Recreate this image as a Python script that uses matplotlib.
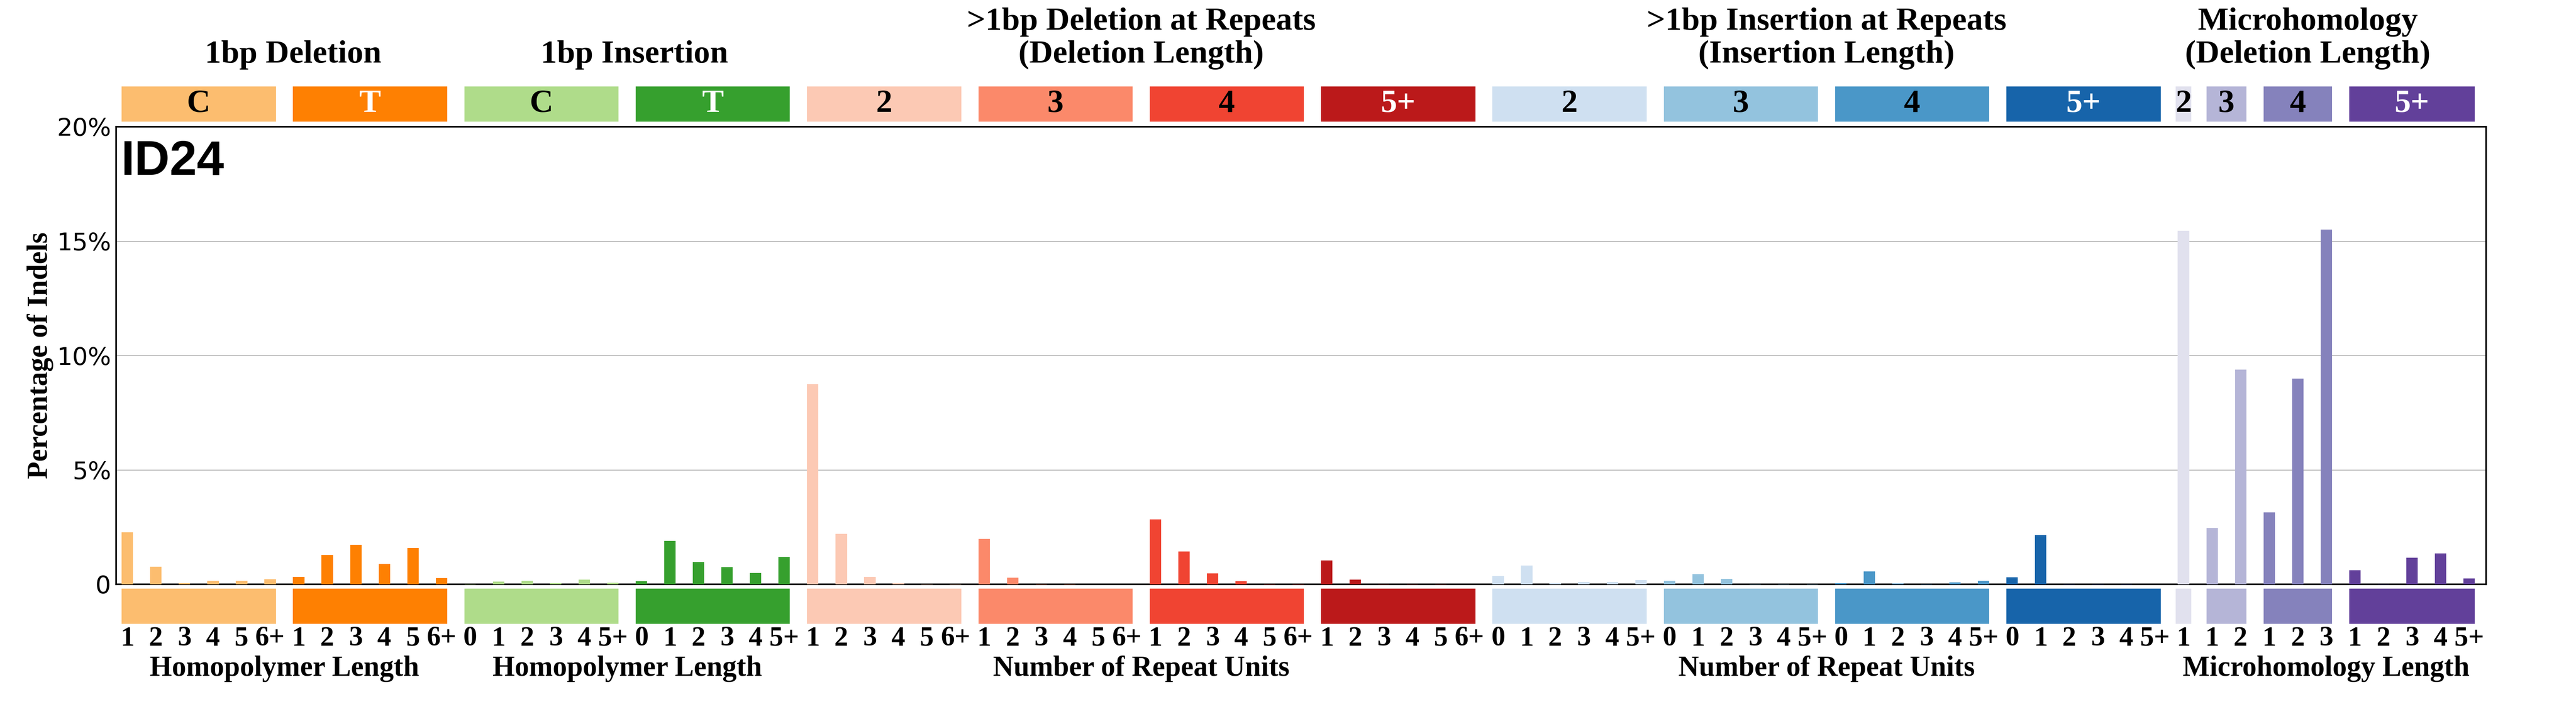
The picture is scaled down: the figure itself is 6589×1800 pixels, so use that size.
import matplotlib
matplotlib.use('Agg')
import matplotlib.pyplot as plt
import matplotlib.transforms as transforms
from matplotlib.patches import Rectangle

# percentages
del_c = [2.27, 0.77, 0.05, 0.16, 0.16, 0.22]
del_t = [0.33, 1.28, 1.73, 0.89, 1.59, 0.27]
ins_c = [0.01, 0.12, 0.15, 0.05, 0.20, 0.065]
ins_t = [0.14, 1.90, 0.97, 0.75, 0.50, 1.20]
del_rep2 = [8.75, 2.20, 0.32, 0.05, 0.01, 0.02]
del_rep3 = [1.98, 0.29, 0.01, 0.01, 0.005, 0.005]
del_rep4 = [2.83, 1.43, 0.48, 0.14, 0.01, 0.01]
del_rep5 = [1.05, 0.20, 0.02, 0.01, 0.01, 0.005]
ins_rep2 = [0.36, 0.82, 0.05, 0.10, 0.10, 0.18]
ins_rep3 = [0.15, 0.44, 0.24, 0.01, 0.01, 0.01]
ins_rep4 = [0.05, 0.56, 0.03, 0.01, 0.085, 0.15]
ins_rep5 = [0.31, 2.15, 0.02, 0.01, 0.01, 0.005]
mh2 = [15.45]
mh3 = [2.47, 9.39]
mh4 = [3.14, 9.00, 15.51]
mh5 = [0.61, 0.02, 1.16, 1.35, 0.25]

groups = [del_c, del_t, ins_c, ins_t, del_rep2, del_rep3, del_rep4, del_rep5,
          ins_rep2, ins_rep3, ins_rep4, ins_rep5, mh2, mh3, mh4, mh5]

hp_del = ['1', '2', '3', '4', '5', '6+']
hp_ins = ['0', '1', '2', '3', '4', '5+']
tick_labels = [hp_del, hp_del, hp_ins, hp_ins, hp_del, hp_del, hp_del, hp_del,
               hp_ins, hp_ins, hp_ins, hp_ins,
               ['1'], ['1', '2'], ['1', '2', '3'], ['1', '2', '3', '4', '5+']]

box_labels = ['C', 'T', 'C', 'T', '2', '3', '4', '5+', '2', '3', '4', '5+', '2', '3', '4', '5+']
white_text = [1, 3, 7, 11, 15]

top_titles = [('1bp Deletion', 0, 1), ('1bp Insertion', 2, 3),
              ('>1bp Deletion at Repeats\n(Deletion Length)', 4, 7),
              ('>1bp Insertion at Repeats\n(Insertion Length)', 8, 11),
              ('Microhomology\n(Deletion Length)', 12, 15)]
bottom_titles = [('Homopolymer Length', 0, 1), ('Homopolymer Length', 2, 3),
                 ('Number of Repeat Units', 4, 7), ('Number of Repeat Units', 8, 11),
                 ('Microhomology Length', 12, 15)]

sample = 'ID24'

colors = [[253, 190, 111], [255, 128, 2], [176, 221, 139], [54, 161, 46],
          [253, 202, 181], [252, 138, 106], [241, 68, 50], [188, 25, 26],
          [208, 225, 242], [148, 196, 223], [74, 152, 201], [23, 100, 171],
          [226, 226, 239], [182, 182, 216], [134, 131, 189], [98, 64, 155]]
colors = [[c / 256 for c in col] for col in colors]

serif = 'Liberation Serif'

plt.rcParams['axes.linewidth'] = 2
fig = plt.figure(figsize=(6590 / 150, 12), dpi=150)
ax = plt.axes([0.045, 0.17, 0.92, 0.65])
trans = transforms.blended_transform_factory(ax.transData, fig.transFigure)

# bars, boxes and tick labels per group
x = 0
spans = []
for i, vals in enumerate(groups):
    xs = list(range(x, x + len(vals)))
    ax.bar(xs, vals, width=0.4, color=colors[i], align='center', zorder=1000)
    spans.append((xs[0], xs[-1]))
    for xi, lab in zip(xs, tick_labels[i]):
        ax.text(xi, 0.083, lab, transform=trans, ha='center', va='baseline',
                fontsize=34, fontname=serif, fontweight='bold')
    center = (xs[0] + xs[-1]) / 2
    w = max(len(vals) - 0.6, 0.54)
    for yb in (0.827, 0.114):
        ax.add_patch(Rectangle((center - w / 2, yb), w, 0.05, facecolor=colors[i],
                               linewidth=0, clip_on=False, transform=trans))
    ax.text(center, 0.852, box_labels[i], transform=trans, ha='center', va='center',
            fontsize=40, fontname=serif, fontweight='bold',
            color='white' if i in white_text else 'black')
    x += len(vals)

# header text sits slightly off the group centres in the original
shift = {0: 0.3, 2: 0.25, 12: -0.65}
for title, g0, g1 in top_titles:
    c = (spans[g0][0] + spans[g1][1]) / 2 + shift.get(g0, 0)
    lines = title.split('\n')
    ys = [0.911] if len(lines) == 1 else [0.958, 0.911]
    for line, yy in zip(lines, ys):
        ax.text(c, yy, line, transform=trans, ha='center', va='baseline',
                fontsize=40, fontname=serif, fontweight='bold')

for title, g0, g1 in bottom_titles:
    c = (spans[g0][0] + spans[g1][1]) / 2
    ax.text(c, 0.04, title, transform=trans, ha='center', va='baseline',
            fontsize=35, fontname=serif, fontweight='bold')

ax.set_xlim(-0.4, x - 0.4)
ax.set_ylim(0, 20)
ax.set_xticks([])
ax.set_yticks([0, 5, 10, 15, 20])
ax.set_yticklabels(['0', '5%', '10%', '15%', '20%'], fontsize=30)
ax.tick_params(axis='y', length=0, pad=6)
ax.yaxis.grid(True, color='#a0a0a0', linewidth=0.8)
ax.set_axisbelow(True)
ax.set_ylabel('Percentage of Indels', fontsize=35, fontname=serif, fontweight='bold')

fig.text(0.047, 0.752, sample, fontsize=60, fontweight='bold', fontname='Liberation Sans')

fig.savefig('out.png', dpi=150)
